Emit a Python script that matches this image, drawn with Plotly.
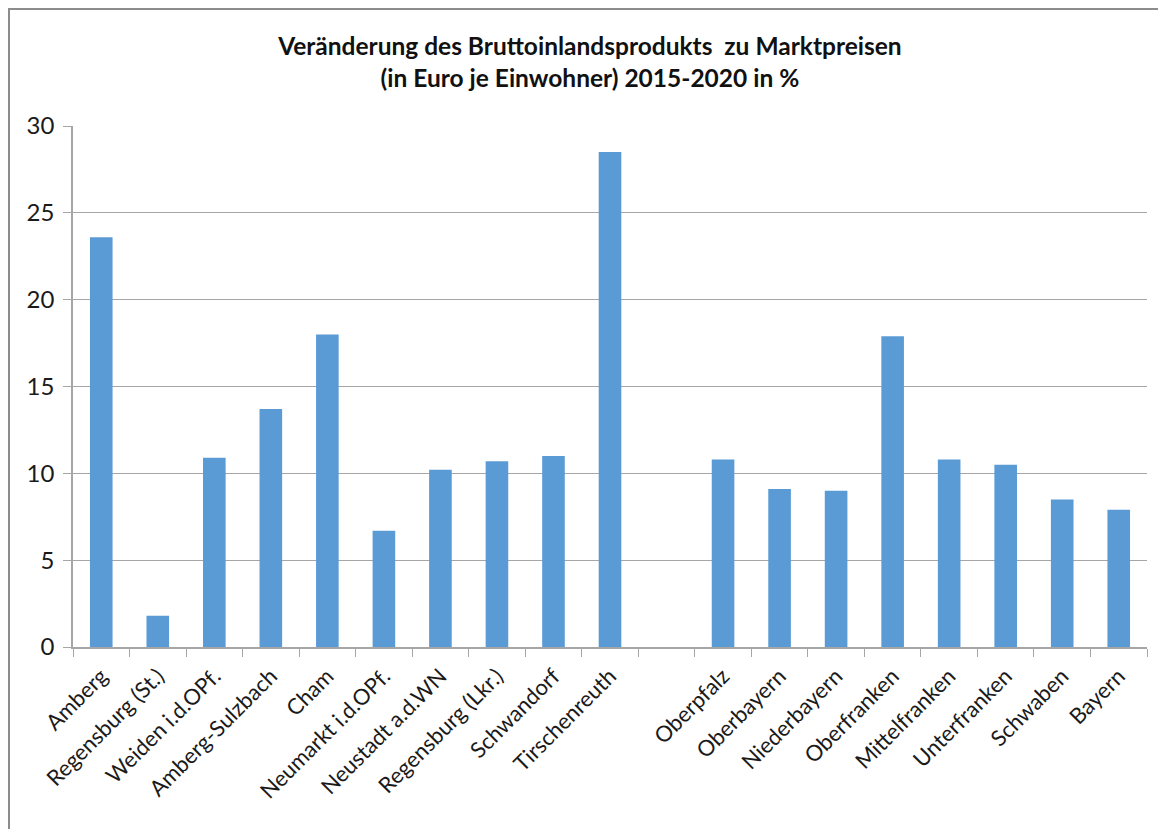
import plotly.graph_objects as go

regions = [
    "Amberg", "Regensburg (St.)", "Weiden i.d.OPf.", "Amberg-Sulzbach", "Cham",
    "Neumarkt i.d.OPf.", "Neustadt a.d.WN", "Regensburg (Lkr.)", "Schwandorf",
    "Tirschenreuth", " ", "Oberpfalz", "Oberbayern", "Niederbayern",
    "Oberfranken", "Mittelfranken", "Unterfranken", "Schwaben", "Bayern",
]
change_pct = [
    23.6, 1.8, 10.9, 13.7, 18.0, 6.7, 10.2, 10.7, 11.0, 28.5,
    None, 10.8, 9.1, 9.0, 17.9, 10.8, 10.5, 8.5, 7.9,
]
y_ticks = [0, 5, 10, 15, 20, 25, 30]

title_text = ("<b>Veränderung des Bruttoinlandsprodukts  zu Marktpreisen</b><br>"
              "<b>(in Euro je Einwohner) 2015-2020 in %</b>")

fig = go.Figure(go.Bar(x=regions, y=change_pct, marker_color="#5B9BD5",
                       marker_line_width=0))

# the page body adds 8px, so the figure is a bit smaller than the window
fig.update_layout(
    width=1150, height=821,
    margin=dict(l=65, r=11, t=118, b=182),
    paper_bgcolor="white", plot_bgcolor="white",
    bargap=0.6,
    showlegend=False,
    font=dict(family="Lato, Open Sans, sans-serif", color="#1a1a1a"),
    title=dict(text=title_text, x=0.506, xanchor="center", y=0.9425, yanchor="middle",
               font=dict(size=24.5, color="#111")),
)
fig.update_xaxes(
    type="category", tickangle=-45, tickfont=dict(size=22),
    showline=True, linecolor="#a6a6a6", linewidth=1.5,
    ticks="outside", tickson="boundaries", ticklen=8, tickcolor="#a6a6a6",
    ticklabelstandoff=6,
    showgrid=False,
)
fig.update_yaxes(
    range=[0, 30], tickvals=y_ticks, tickfont=dict(size=24),
    showline=True, linecolor="#a6a6a6", linewidth=1.5,
    ticks="outside", ticklen=8, tickcolor="#a6a6a6", ticklabelstandoff=4,
    showgrid=True, gridcolor="#a6a6a6", gridwidth=1, zeroline=False,
)

# outer chart frame (cut off at right and bottom like the screenshot)
fig.add_shape(type="rect", xref="paper", yref="paper",
              x0=-0.0596, x1=1.5, y0=-1.0, y1=1.2246,
              line=dict(color="#8c8c8c", width=2), layer="below")

fig.write_html("out.html")
